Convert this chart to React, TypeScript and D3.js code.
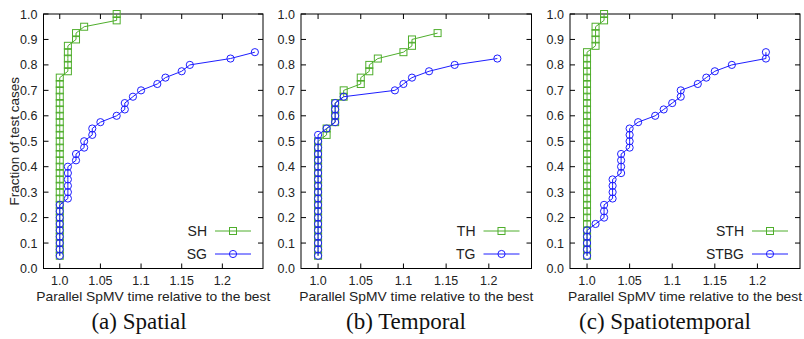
import React from 'react';
import * as d3 from 'd3';

// shared axes
const xTicks = [1.0, 1.05, 1.1, 1.15, 1.2];
const xTickLabels = ['1.0', '1.05', '1.1', '1.15', '1.2'];
const yTicks = [0, 0.1, 0.2, 0.3, 0.4, 0.5, 0.6, 0.7, 0.8, 0.9, 1.0];
const yTickLabels = ['0.0', '0.1', '0.2', '0.3', '0.4', '0.5', '0.6', '0.7', '0.8', '0.9', '1.0'];

// (a) Spatial
const shX = [
  1, 1, 1, 1, 1, 1, 1, 1, 1, 1, 1, 1, 1, 1, 1, 1, 1, 1, 1, 1, 1, 1, 1, 1, 1, 1, 1, 1, 1,
  1.01, 1.01, 1.01, 1.01, 1.01, 1.02, 1.02, 1.03, 1.07, 1.07,
];
const shY = [
  0.05, 0.075, 0.1, 0.125, 0.15, 0.175, 0.2, 0.225, 0.25, 0.275, 0.3, 0.325, 0.35, 0.375, 0.4,
  0.425, 0.45, 0.475, 0.5, 0.525, 0.55, 0.575, 0.6, 0.625, 0.65, 0.675, 0.7, 0.725, 0.75,
  0.775, 0.8, 0.825, 0.85, 0.875, 0.9, 0.925, 0.95, 0.975, 1.0,
];
const sgX = [
  1, 1, 1, 1, 1, 1, 1, 1, 1,
  1.01, 1.01, 1.01, 1.01, 1.01, 1.01, 1.02, 1.02, 1.03, 1.03, 1.04, 1.04,
  1.05, 1.07, 1.08, 1.08, 1.09, 1.1, 1.12, 1.13, 1.15, 1.16, 1.21, 1.24,
];
const sgY = [
  0.05, 0.075, 0.1, 0.125, 0.15, 0.175, 0.2, 0.225, 0.25,
  0.275, 0.3, 0.325, 0.35, 0.375, 0.4, 0.425, 0.45, 0.475, 0.5, 0.525, 0.55,
  0.575, 0.6, 0.625, 0.65, 0.675, 0.7, 0.725, 0.75, 0.775, 0.8, 0.825, 0.85,
];

// (b) Temporal
const thX = [
  1, 1, 1, 1, 1, 1, 1, 1, 1, 1, 1, 1, 1, 1, 1, 1, 1, 1, 1,
  1.01, 1.01, 1.02, 1.02, 1.02, 1.02, 1.03, 1.03, 1.05, 1.05, 1.06, 1.06, 1.07, 1.1, 1.11, 1.11, 1.14,
];
const thY = [
  0.05, 0.075, 0.1, 0.125, 0.15, 0.175, 0.2, 0.225, 0.25, 0.275, 0.3, 0.325, 0.35, 0.375, 0.4,
  0.425, 0.45, 0.475, 0.5,
  0.525, 0.55, 0.575, 0.6, 0.625, 0.65, 0.675, 0.7, 0.725, 0.75, 0.775, 0.8, 0.825, 0.85, 0.875, 0.9, 0.925,
];
const tgX = [
  1, 1, 1, 1, 1, 1, 1, 1, 1, 1, 1, 1, 1, 1, 1, 1, 1, 1, 1, 1,
  1.01, 1.02, 1.02, 1.02, 1.02, 1.03, 1.09, 1.1, 1.11, 1.13, 1.16, 1.21,
];
const tgY = [
  0.05, 0.075, 0.1, 0.125, 0.15, 0.175, 0.2, 0.225, 0.25, 0.275, 0.3, 0.325, 0.35, 0.375, 0.4,
  0.425, 0.45, 0.475, 0.5, 0.525,
  0.55, 0.575, 0.6, 0.625, 0.65, 0.675, 0.7, 0.725, 0.75, 0.775, 0.8, 0.825,
];

// (c) Spatiotemporal
const sthX = [
  1, 1, 1, 1, 1, 1, 1, 1, 1, 1, 1, 1, 1, 1, 1, 1, 1, 1, 1, 1, 1, 1, 1, 1, 1, 1, 1, 1, 1, 1, 1, 1, 1,
  1.01, 1.01, 1.01, 1.01, 1.02, 1.02,
];
const sthY = [
  0.05, 0.075, 0.1, 0.125, 0.15, 0.175, 0.2, 0.225, 0.25, 0.275, 0.3, 0.325, 0.35, 0.375, 0.4,
  0.425, 0.45, 0.475, 0.5, 0.525, 0.55, 0.575, 0.6, 0.625, 0.65, 0.675, 0.7, 0.725, 0.75, 0.775,
  0.8, 0.825, 0.85,
  0.875, 0.9, 0.925, 0.95, 0.975, 1.0,
];
const stbgX = [
  1, 1, 1, 1, 1, 1.01, 1.02, 1.02, 1.02, 1.03, 1.03, 1.03, 1.03, 1.04, 1.04, 1.04, 1.04,
  1.05, 1.05, 1.05, 1.05, 1.06, 1.08, 1.09, 1.1, 1.11, 1.11, 1.13, 1.14, 1.15, 1.17, 1.21, 1.21,
];
const stbgY = [
  0.05, 0.075, 0.1, 0.125, 0.15, 0.175, 0.2, 0.225, 0.25, 0.275, 0.3, 0.325, 0.35, 0.375, 0.4,
  0.425, 0.45, 0.475, 0.5, 0.525, 0.55, 0.575, 0.6, 0.625, 0.65, 0.675, 0.7, 0.725, 0.75,
  0.775, 0.8, 0.825, 0.85,
];

const GREEN = '#4fae2c';
const BLUE = '#1e1eff';
const SANS = '"Liberation Sans", Arial, Helvetica, sans-serif';
const SERIF = '"Liberation Serif", "Times New Roman", serif';

const top = 14;
const bottom = 268.5;

function Panel({ left, right, gx, gy, bx, by, gName, bName, caption, captionX, yLabel }) {
  const x = d3.scaleLinear().domain([0.98, 1.25]).range([left, right]);
  const y = d3.scaleLinear().domain([0, 1]).range([bottom, top]);
  const line = d3.line<number[]>().x((d) => x(d[0])).y((d) => y(d[1]));
  const green = gx.map((v, i) => [v, gy[i]]);
  const blue = bx.map((v, i) => [v, by[i]]);
  const tl = 5;
  const legY1 = bottom - 37.5;
  const legY2 = bottom - 14.5;
  const legTextX = right - 56;
  const legL = right - 48;
  const legR = right - 12;
  const legM = (legL + legR) / 2;

  return (
    <g>
      <rect x={left} y={top} width={right - left} height={bottom - top} fill="none" stroke="#000" strokeWidth={1} />
      {xTicks.map((t, i) => (
        <g key={'x' + i}>
          <line x1={x(t)} x2={x(t)} y1={bottom} y2={bottom - tl} stroke="#000" />
          <line x1={x(t)} x2={x(t)} y1={top} y2={top + tl} stroke="#000" />
          <text x={x(t)} y={bottom + 16.5} textAnchor="middle" fontFamily={SANS} fontSize={12.5} fill="#222">
            {xTickLabels[i]}
          </text>
        </g>
      ))}
      {yTicks.map((t, i) => (
        <g key={'y' + i}>
          <line x1={left} x2={left + tl} y1={y(t)} y2={y(t)} stroke="#000" />
          <line x1={right} x2={right - tl} y1={y(t)} y2={y(t)} stroke="#000" />
          <text x={left - 6} y={y(t) + 4.5} textAnchor="end" fontFamily={SANS} fontSize={12.5} fill="#222">
            {yTickLabels[i]}
          </text>
        </g>
      ))}
      <text
        x={(left + right) / 2}
        y={bottom + 32}
        textAnchor="middle"
        fontFamily={SANS}
        fontSize={13.5}
        textLength={234}
        lengthAdjust="spacingAndGlyphs"
        fill="#222"
      >
        Parallel SpMV time relative to the best
      </text>
      {yLabel && (
        <text
          transform={`translate(19,${(top + bottom) / 2}) rotate(-90)`}
          textAnchor="middle"
          fontFamily={SANS}
          fontSize={13.5}
          fill="#222"
        >
          Fraction of test cases
        </text>
      )}

      <path d={line(green)} fill="none" stroke={GREEN} strokeWidth={1} />
      {green.map((d, i) => (
        <rect key={'g' + i} x={x(d[0]) - 3.5} y={y(d[1]) - 3.5} width={7} height={7} fill="none" stroke={GREEN} strokeWidth={1} />
      ))}
      <path d={line(blue)} fill="none" stroke={BLUE} strokeWidth={1} />
      {blue.map((d, i) => (
        <circle key={'b' + i} cx={x(d[0])} cy={y(d[1])} r={3.6} fill="none" stroke={BLUE} strokeWidth={1} />
      ))}

      <text x={legTextX} y={legY1 + 5} textAnchor="end" fontFamily={SANS} fontSize={14} fill="#222">{gName}</text>
      <line x1={legL} x2={legR} y1={legY1} y2={legY1} stroke={GREEN} />
      <rect x={legM - 3.5} y={legY1 - 3.5} width={7} height={7} fill="none" stroke={GREEN} />
      <text x={legTextX} y={legY2 + 5} textAnchor="end" fontFamily={SANS} fontSize={14} fill="#222">{bName}</text>
      <line x1={legL} x2={legR} y1={legY2} y2={legY2} stroke={BLUE} />
      <circle cx={legM} cy={legY2} r={3.6} fill="none" stroke={BLUE} />

      <text x={captionX} y={329} textAnchor="middle" fontFamily={SERIF} fontSize={23} fill="#111">
        {caption}
      </text>
    </g>
  );
}

export default function App() {
  return (
    <svg width={804} height={339} style={{ position: 'absolute', left: 0, top: 0, background: '#fff' }}>
      <Panel left={43.5} right={263} gx={shX} gy={shY} bx={sgX} by={sgY} gName="SH" bName="SG" caption="(a) Spatial" captionX={139} yLabel />
      <Panel left={301} right={531.5} gx={thX} gy={thY} bx={tgX} by={tgY} gName="TH" bName="TG" caption="(b) Temporal" captionX={406} yLabel={false} />
      <Panel left={570} right={800} gx={sthX} gy={sthY} bx={stbgX} by={stbgY} gName="STH" bName="STBG" caption="(c) Spatiotemporal" captionX={665} yLabel={false} />
    </svg>
  );
}
